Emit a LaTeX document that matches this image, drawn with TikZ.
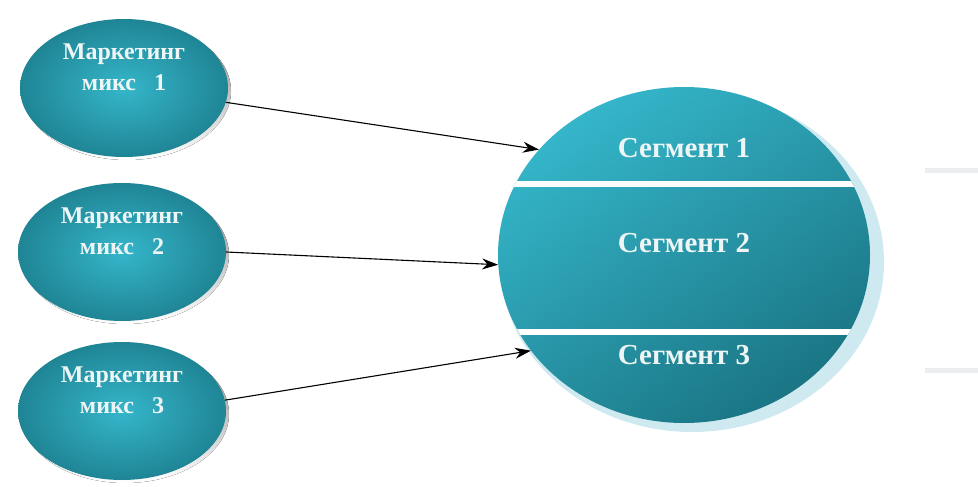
\documentclass[tikz,border=0pt]{standalone}
\usepackage{fontspec}
\setmainfont{Liberation Serif}
\usetikzlibrary{shapes.geometric,arrows.meta,shadows}
\definecolor{tealA}{HTML}{35B6CA}
\definecolor{tealB}{HTML}{1F8595}
\definecolor{tealC}{HTML}{1A7584}
\definecolor{halo}{HTML}{CFE9F0}
\definecolor{txt}{HTML}{EEF5F5}
\definecolor{grayline}{HTML}{ECEDEF}
\definecolor{shade}{HTML}{C9D6DA}
\tikzset{
  mix/.style={ellipse, minimum width=208pt, minimum height=138pt, inner sep=0pt,
    inner color=tealA, outer color=tealB},
  mixtext/.style={font=\fontsize{24}{31}\selectfont\bfseries, text=txt, align=center},
  seglabel/.style={font=\fontsize{29}{32}\selectfont\bfseries, text=txt},
  conn/.style={-{Stealth[length=16pt,width=11pt]}, line width=1.1pt, black},
}
\begin{document}
\begin{tikzpicture}[x=1pt,y=-1pt]
\useasboundingbox (0,0) rectangle (978,487);
% gray lines at right
\fill[grayline] (925,168) rectangle (978,173);
\fill[grayline] (925,368) rectangle (978,373);
% halo of big circle
\fill[halo] (692,262) ellipse [x radius=192pt, y radius=170pt];
% big circle
\node[ellipse, minimum width=372pt, minimum height=336pt, inner sep=0pt,
      shading=axis, top color=tealA, bottom color=tealC, shading angle=35] (seg) at (684,255) {};
\begin{scope}
  \clip (684,255) ellipse [x radius=186pt, y radius=168pt];
  \fill[white] (480,181) rectangle (900,187);
  \fill[white] (480,329) rectangle (900,335);
\end{scope}
\node[seglabel] (s1) at (684,148) {Сегмент 1};
\node[seglabel] (s2) at (684,243) {Сегмент 2};
\node[seglabel] (s3) at (684,355) {Сегмент 3};
% ellipse shadows
\fill[shade] (127,91) ellipse [x radius=104pt, y radius=69pt];
\fill[shade] (125,255) ellipse [x radius=104pt, y radius=69pt];
\fill[shade] (125,414) ellipse [x radius=104pt, y radius=69pt];
% ellipses
\node[mix] (m1) at (124,88) {};
\node[mix] (m2) at (122,252) {};
\node[mix] (m3) at (122,411) {};
\node[mixtext] (t1) at (124,67) {Маркетинг\\микс\ \ \ 1};
\node[mixtext] (t2) at (122,231) {Маркетинг\\микс\ \ \ 2};
\node[mixtext] (t3) at (122,390) {Маркетинг\\микс\ \ \ 3};
% connectors
\draw[conn] (m1.-8) -- (seg.144);
\draw[conn] (m2.0) -- (seg.183);
\draw[conn] (m3.6) -- (seg.212);
\end{tikzpicture}
\end{document}
